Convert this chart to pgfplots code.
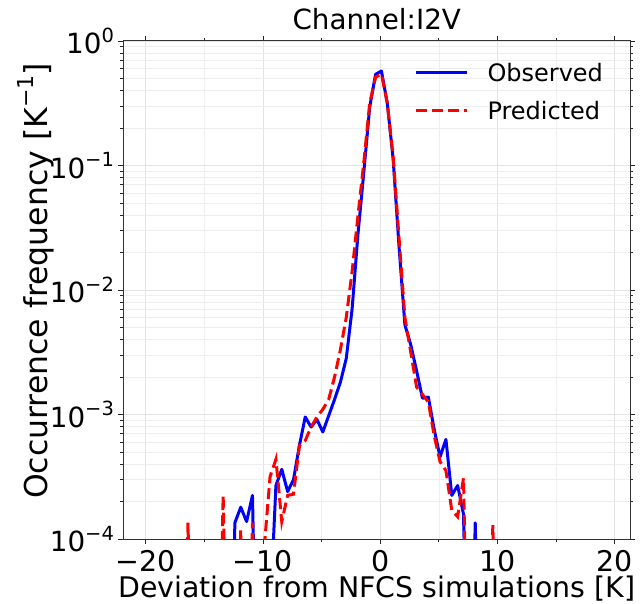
\documentclass[border=0pt]{standalone}
\usepackage{fontspec}
\setmainfont{DejaVu Sans}
\usepackage{pgfplots}
\pgfplotsset{compat=1.18}
\newcommand{\tp}[1]{10\raisebox{0.42em}{\fontsize{19.5}{20}\selectfont #1}}
\begin{document}
\begin{tikzpicture}
\begin{axis}[
  name=ax, at={(0,0)}, anchor=south west,
  scale only axis, width=506.5pt, height=498pt,
  xmin=-21.9, xmax=21.3,
  ymode=log, ymin=1e-4, ymax=1,
  xtick={-20,-10,0,10,20},
  xticklabels={−20,−10,0,10,20},
  minor xtick={-15,-5,5,15},
  ytick={1e-4,1e-3,1e-2,1e-1,1},
  yticklabels={\tp{−4},\tp{−3},\tp{−2},\tp{−1},\tp{0}},
  tick align=outside,
  major tick length=5pt, minor tick length=3pt,
  every tick/.style={black!85, line width=0.9pt},
  axis line style={black!80, line width=1pt},
  grid=both,
  major grid style={gray!22, line width=0.8pt},
  minor grid style={gray!13, line width=0.6pt},
  ticklabel style={font=\fontsize{28.5}{30}\selectfont},
  xticklabel style={yshift=-3pt},
  yticklabel style={xshift=-1pt, font=\fontsize{27.8}{30}\selectfont},
  xlabel={Deviation from NFCS simulations [K]},
  ylabel={Occurrence frequency [K\raisebox{0.42em}{\fontsize{22}{24}\selectfont −1}]},
  xlabel style={font=\fontsize{28.4}{30}\selectfont, at={(axis description cs:0.5,-0.099)}, anchor=center},
  ylabel style={font=\fontsize{31.5}{33}\selectfont, at={(axis description cs:-0.173,0.518)}, anchor=center},
  title={Channel:I2V},
  title style={font=\fontsize{27.8}{30}\selectfont, at={(axis description cs:0.5,1.032)}, anchor=center},
  legend style={draw=none, fill=none, at={(axis description cs:0.951,0.960)}, anchor=north east,
    font=\fontsize{24}{28}\selectfont, row sep=14pt, inner sep=0pt},
  legend cell align=left,
  legend image code/.code={\draw[#1] (0pt,0pt) -- (51pt,0pt); \path (68pt,0pt);},
]
\addplot[blue, line width=3pt, line join=round] coordinates {
(-13.4,1e-6) (-12.9,1e-6) (-12.4,1.35e-4) (-11.9,1.80e-4) (-11.4,1.38e-4) (-10.9,2.24e-4)
(-10.4,1e-6) (-9.9,1e-6) (-9.4,2.5e-5) (-8.9,2.69e-4) (-8.4,3.63e-4) (-7.9,2.40e-4)
(-7.4,3.0e-4) (-6.9,5.62e-4) (-6.4,9.55e-4) (-5.9,7.94e-4) (-5.4,9.12e-4) (-4.9,7.24e-4)
(-4.4,9.77e-4) (-3.9,1.32e-3) (-3.4,1.82e-3) (-2.9,2.82e-3) (-2.4,7.08e-3) (-1.9,2.82e-2)
(-1.4,8.9e-2) (-0.9,0.295) (-0.4,0.54) (0.1,0.574) (0.6,0.316) (1.1,0.112)
(1.6,2.24e-2) (2.1,5.25e-3) (2.6,3.63e-3) (3.1,2.24e-3) (3.6,1.35e-3) (4.1,1.38e-3)
(4.6,7.59e-4) (5.1,4.57e-4) (5.6,6.31e-4) (6.1,2.24e-4) (6.6,2.69e-4) (7.1,1.58e-4)
(7.6,1e-6) (8.1,1.35e-4) (8.6,1e-6) (9.1,1e-6)
};
\addlegendentry{Observed}
\addplot[red, line width=3pt, dash pattern=on 11pt off 5pt] coordinates {
(-16.9,1e-6) (-16.4,1.35e-4) (-15.9,1e-6) (-13.9,1e-6) (-13.4,2.24e-4) (-12.9,1e-6)
(-12.4,1e-6) (-11.9,1.17e-4) (-11.4,1e-6) (-10.9,1.35e-4) (-10.4,1e-6) (-9.9,8.5e-5)
(-9.4,3.16e-4) (-8.9,4.37e-4) (-8.4,1.38e-4) (-7.9,2.24e-4) (-7.4,2.29e-4) (-6.9,5.62e-4)
(-6.4,6.17e-4) (-5.9,7.94e-4) (-5.4,9.55e-4) (-4.9,1.10e-3) (-4.4,1.32e-3) (-3.9,2.0e-3)
(-3.4,3.31e-3) (-2.9,6.03e-3) (-2.4,1.41e-2) (-1.9,3.98e-2) (-1.4,0.107) (-0.9,0.316)
(-0.4,0.513) (0.1,0.543) (0.6,0.316) (1.1,0.117) (1.6,2.63e-2) (2.1,6.03e-3)
(2.6,3.16e-3) (3.1,1.66e-3) (3.6,1.45e-3) (4.1,1.26e-3) (4.6,6.76e-4) (5.1,4.17e-4)
(5.6,3.55e-4) (6.1,1.70e-4) (6.6,1.51e-4) (7.1,3.09e-4) (7.6,1e-6) (8.1,1e-6)
(8.6,1e-6) (9.1,1e-6) (9.6,1.29e-4) (10.1,1e-6)
};
\addlegendentry{Predicted}
\end{axis}
\pgfresetboundingbox
\path[use as bounding box] (-123.5pt,-65pt) rectangle (519.5pt,539pt);
\end{tikzpicture}
\end{document}
